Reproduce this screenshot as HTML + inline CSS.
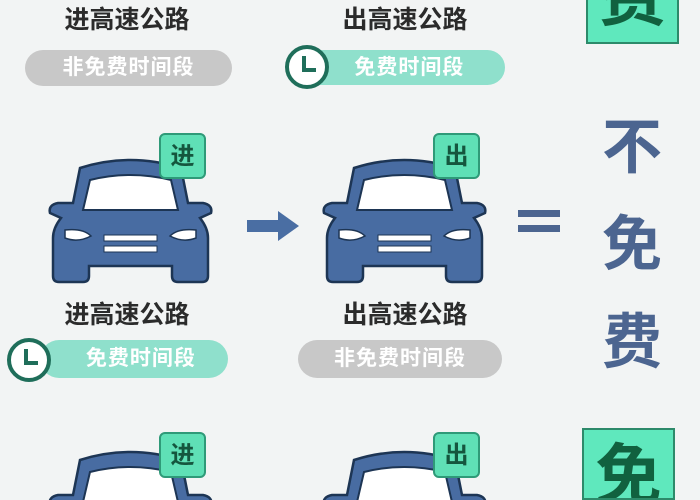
<!DOCTYPE html><html style="width:700px;height:500px;overflow:hidden"><head><meta charset="utf-8"><style>
body{margin:0;width:700px;height:500px;overflow:hidden;background:#f2f4f4;font-family:"Liberation Sans","Noto Sans CJK SC",sans-serif;position:relative}
.t{position:absolute;font-weight:bold;color:#2b2b2b;font-size:25px;text-align:center;width:200px}
.pill{position:absolute;border-radius:20px;color:#fff;font-weight:bold;font-size:21px;text-align:center;letter-spacing:1px}
.g{background:#c8c8c8}.m{background:#8fe0cc}
.badge{position:absolute;width:47px;height:46px;background:#5fe0b6;border:2px solid #2f9a78;border-radius:6px;color:#15563e;font-weight:bold;font-size:24px;text-align:center;line-height:44px;box-sizing:border-box}
.big{position:absolute;color:#4c6590;font-weight:bold;font-size:60px;line-height:70px}
.box{position:absolute;background:#5fe8bd;border:2px solid #2d8a6a;box-sizing:border-box;color:#11613f;font-weight:bold;font-size:66px;text-align:center;overflow:hidden}
</style></head><body>
<svg width="700" height="500" style="position:absolute;left:0;top:0">
<defs><g id="car">
<path d="M32,10 Q82,-6 133,10 L140,45 L155,45 Q165,47 163,55 L152,60 Q160,70 160,80 L160,118 Q160,124 154,124 L130,124 Q124,124 124,118 L124,108 L41,108 L41,118 Q41,124 35,124 L11,124 Q5,124 5,118 L5,80 Q5,70 13,60 L2,55 Q0,47 10,45 L25,45 Z" fill="#486ca2" stroke="#1d3554" stroke-width="2.5"/>
<path d="M42,22 Q82,12 123,22 L130,52 L35,52 Z" fill="#fff" stroke="#1d3554" stroke-width="2"/>
<path d="M17,72 Q35,70 43,78 Q30,85 17,80 Z" fill="#fff" stroke="#1d3554" stroke-width="1.5"/>
<path d="M148,72 Q130,70 122,78 Q135,85 148,80 Z" fill="#fff" stroke="#1d3554" stroke-width="1.5"/>
<rect x="56" y="77" width="53" height="6" fill="#fff" stroke="#1d3554"/>
<rect x="56" y="88" width="53" height="6" fill="#fff" stroke="#1d3554"/>
</g>
<g id="clk"><circle r="20" fill="#fff" stroke="#1f6e5a" stroke-width="4"/><path d="M-3,-11 V3 H9" fill="none" stroke="#1f6e5a" stroke-width="4"/></g></defs>
<use href="#car" x="48" y="158"/><use href="#car" x="322" y="158"/>
<use href="#car" x="48" y="450"/><use href="#car" x="322" y="450"/>
<path d="M247,220 H278 V211 L299,226 L278,241 V232 H247 Z" fill="#4a6ea3"/>
<rect x="518" y="210" width="42" height="7" fill="#4c6590"/><rect x="518" y="225" width="42" height="7" fill="#4c6590"/>
</svg>
<div class="t" style="left:27px;top:0px">进高速公路</div>
<div class="t" style="left:305px;top:0px">出高速公路</div>
<div class="pill g" style="left:25px;top:50px;width:207px;height:36px;line-height:36px">非免费时间段</div>
<div class="pill m" style="left:300px;top:50px;width:205px;height:35px;line-height:35px">&nbsp;&nbsp;免费时间段</div>
<div class="t" style="left:27px;top:295px">进高速公路</div>
<div class="t" style="left:305px;top:295px">出高速公路</div>
<div class="pill m" style="left:40px;top:340px;width:188px;height:38px;line-height:38px">&nbsp;&nbsp;免费时间段</div>
<div class="pill g" style="left:298px;top:340px;width:204px;height:38px;line-height:38px">非免费时间段</div>
<svg width="700" height="500" style="position:absolute;left:0;top:0"><use href="#clk" x="307" y="67"/><use href="#clk" x="29" y="360"/></svg>
<div class="badge" style="left:159px;top:133px">进</div>
<div class="badge" style="left:433px;top:133px">出</div>
<div class="badge" style="left:159px;top:432px">进</div>
<div class="badge" style="left:433px;top:432px">出</div>
<div class="big" style="left:602px;top:113px">不</div>
<div class="big" style="left:602px;top:210px">免</div>
<div class="big" style="left:602px;top:308px">费</div>
<div class="box" style="left:586px;top:-40px;width:93px;height:84px;line-height:70px">费</div>
<div class="box" style="left:582px;top:428px;width:93px;height:72px;line-height:90px">免</div>
</body></html>
